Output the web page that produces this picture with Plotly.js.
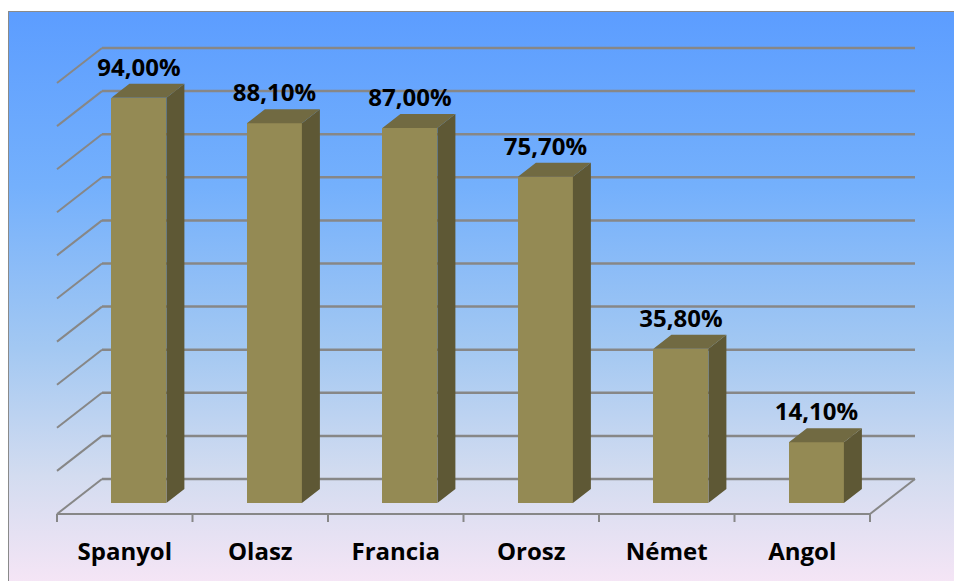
<!DOCTYPE html>
<html>
<head>
<meta charset="utf-8">
<script src="https://cdn.plot.ly/plotly-3.0.1.min.js"></script>
<style>
  html, body { margin: 0; padding: 0; background: #ffffff; }
  #wrap { position: relative; width: 954px; height: 581px; overflow: hidden; }
  #bg {
    position: absolute; left: 8px; top: 11px; width: 960px; height: 580px;
    border-left: 1px solid #8a8a8a; border-top: 1px solid #8a8a8a;
    background: linear-gradient(to bottom, #5c9dff 0%, #74b0fc 30%, #a3c8f2 58%, #d3dcf0 80%, #f8e6f6 100%);
  }
  #chart { position: absolute; left: 0; top: 0; width: 954px; height: 581px; }
</style>
</head>
<body>
<div id="wrap"><div id="bg"></div><div id="chart"></div></div>
<script>
// ---- data ----
const categories = ['Spanyol', 'Olasz', 'Francia', 'Orosz', 'Német', 'Angol'];
const values = [94.0, 88.1, 87.0, 75.7, 35.8, 14.1];
const gridValues = [0, 10, 20, 30, 40, 50, 60, 70, 80, 90, 100];

// ---- geometry (pixel layout of the pseudo-3D frame) ----
const W = 954, H = 581, plotBottomPx = 527;
const slotLeftPx = 57, slotPx = 135.5;
const zeroPx = 503, pxPerUnit = 4.31;
const floorFrontPx = 514, depthDX = 45, depthDY = 35;
const floorRightPx = slotLeftPx + slotPx * categories.length;
const barWidthPx = 55, barDX = 18, barDY = 14;
const labelRisePx = 28;

const X = px => (px - slotLeftPx) / slotPx - 0.5;
const dX = px => px / slotPx;
const dY = px => px / pxPerUnit;

const xRange = [X(0), X(W)];
const yRange = [-(plotBottomPx - zeroPx) / pxPerUnit, zeroPx / pxPerUnit];

const frontOff = -dY(floorFrontPx - zeroPx);        // floor front edge level
const backOff = frontOff + dY(depthDY);             // back wall zero level
const xFL = X(slotLeftPx), xFR = X(floorRightPx);
const xBL = xFL + dX(depthDX), xBR = xFR + dX(depthDX);
const barShift = dX((floorFrontPx - zeroPx) * depthDX / depthDY);

const lineColor = '#878787';
const shapes = [];
const seg = (x0, y0, x1, y1, w) => shapes.push({
  type: 'line', xref: 'x', yref: 'y', x0, y0, x1, y1, layer: 'below',
  line: { color: lineColor, width: w }
});
// back-wall gridlines and side-wall diagonals
gridValues.forEach(g => {
  seg(xBL, g + backOff, xBR, g + backOff, 2.5);
  seg(xFL, g + frontOff, xBL, g + backOff, 2);
});
// floor edges
seg(xFL, frontOff, xFR, frontOff, 2);
seg(xFR, frontOff, xBR, backOff, 2);
// category boundary ticks
for (let j = 0; j <= categories.length; j++) seg(j - 0.5, frontOff, j - 0.5, frontOff - dY(8), 2);

// bars
const barX = categories.map((c, i) => i + barShift);
const bw = dX(barWidthPx), bdx = dX(barDX), bdy = dY(barDY);

const sx = [], sy = [], tx = [], ty = [];
values.forEach((v, i) => {
  const xl = barX[i] - bw / 2, xr = barX[i] + bw / 2;
  sx.push(xr, xr + bdx, xr + bdx, xr, xr, null);
  sy.push(0, bdy, v + bdy, v, 0, null);
  tx.push(xl, xr, xr + bdx, xl + bdx, xl, null);
  ty.push(v, v, v + bdy, v + bdy, v, null);
});

const labelText = values.map(v => v.toFixed(2).replace('.', ',') + '%');
const labelY = values.map(v => v + dY(labelRisePx));

const traces = [
  { type: 'bar', x: barX, y: values, width: bw, base: 0, marker: { color: '#948a54', line: { width: 0 } }, hoverinfo: 'skip', showlegend: false },
  { type: 'scatter', mode: 'lines', x: sx, y: sy, fill: 'toself', fillcolor: '#5e5835', line: { width: 0, color: '#5e5835' }, hoverinfo: 'skip', showlegend: false },
  { type: 'scatter', mode: 'lines', x: tx, y: ty, fill: 'toself', fillcolor: '#716a42', line: { width: 0, color: '#716a42' }, hoverinfo: 'skip', showlegend: false },
  { type: 'scatter', mode: 'text', x: barX, y: labelY, text: labelText, textposition: 'middle center',
    textfont: { family: 'Open Sans', size: 24, color: '#000000', weight: 'bold' }, hoverinfo: 'skip', showlegend: false, cliponaxis: false }
];

const layout = {
  width: W, height: H,
  margin: { l: 0, r: 0, t: 0, b: H - plotBottomPx, pad: 0 },
  paper_bgcolor: 'rgba(0,0,0,0)', plot_bgcolor: 'rgba(0,0,0,0)',
  showlegend: false,
  bargap: 0,
  shapes: shapes,
  xaxis: {
    range: xRange, showgrid: false, zeroline: false, showline: false,
    tickmode: 'array', tickvals: categories.map((c, i) => i), ticktext: categories,
    ticks: '', ticklabelstandoff: 8,
    tickfont: { family: 'Open Sans', size: 24, color: '#000000', weight: 'bold' },
    fixedrange: true
  },
  yaxis: {
    range: yRange, showgrid: false, zeroline: false, showline: false, showticklabels: false, ticks: '', fixedrange: true
  }
};

Plotly.newPlot('chart', traces, layout, { displayModeBar: false, staticPlot: true });
</script>
</body>
</html>
